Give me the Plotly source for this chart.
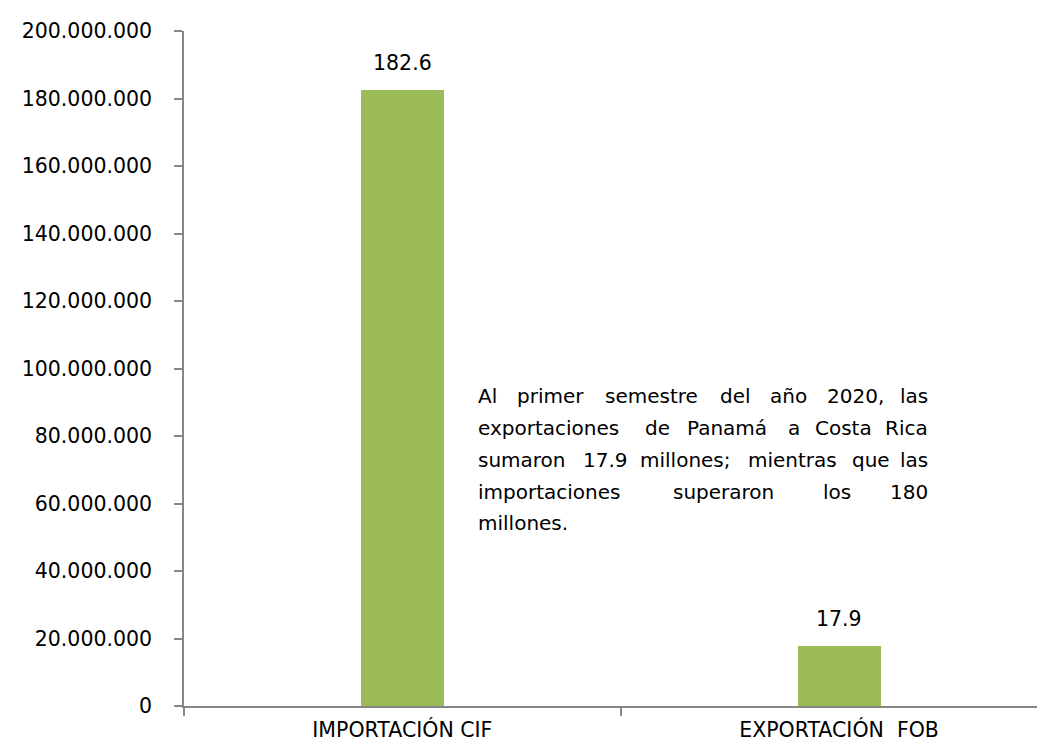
import plotly.graph_objects as go

# ---------------- data ----------------
categorias = ["IMPORTACIÓN CIF", "EXPORTACIÓN\u00a0 FOB"]
valores = [182_600_000, 17_900_000]
etiquetas = ["182.6", "17.9"]

y_ticks = [0, 20_000_000, 40_000_000, 60_000_000, 80_000_000, 100_000_000,
           120_000_000, 140_000_000, 160_000_000, 180_000_000, 200_000_000]

nota = [
    ["Al", "primer", "semestre", "del", "año", "2020,", "las"],
    ["exportaciones", "de", "Panamá", "a", "Costa", "Rica"],
    ["sumaron", "17.9", "millones;", "mientras", "que", "las"],
    ["importaciones", "superaron", "los", "180"],
    ["millones."],
]

# ---------------- layout helpers ----------------
W, H = 1045, 745
L, R, T, B = 176, 0, 23, 47
font_fam = "DejaVu Sans"
gris = "#868686"
verde = "#9BBB59"


def px_x(px):
    return (px - L) / (W - L - R)


def px_y(py):
    return (H - B - py) / (H - T - B)


fig = go.Figure(go.Bar(
    x=categorias, y=valores, width=0.19,
    marker=dict(color=verde, line=dict(width=0)),
    hoverinfo="skip",
))

# bar value labels
for c, v, t in zip(categorias, valores, etiquetas):
    fig.add_annotation(x=c, y=v, text=t, showarrow=False, yshift=27,
                       font=dict(size=20.5, color="black", family=font_fam))

# justified note: word starts, last word right-aligned
starts = [
    [468, 507, 595, 710, 760, 817],
    [468, 635, 677, 778, 805],
    [468, 573, 630, 738, 842],
    [468, 663, 813],
    [468],
]
line_y = [388, 420, 452, 484, 515]
right_edge = 922
for words, xs, ly in zip(nota, starts, line_y):
    for i, w in enumerate(words):
        if i < len(xs):
            fig.add_annotation(x=px_x(xs[i]), y=px_y(ly), xref="paper", yref="paper",
                               text=w, showarrow=False, xanchor="left", yanchor="middle",
                               font=dict(size=20, color="black", family=font_fam))
        else:
            fig.add_annotation(x=px_x(right_edge), y=px_y(ly), xref="paper", yref="paper",
                               text=w, showarrow=False, xanchor="right", yanchor="middle",
                               font=dict(size=20, color="black", family=font_fam))

fig.update_layout(
    width=W, height=H,
    margin=dict(l=L, r=R, t=T, b=B, autoexpand=False),
    paper_bgcolor="white", plot_bgcolor="white",
    separators=",.",
    font=dict(family=font_fam, size=20.5, color="black"),
    showlegend=False,
    bargap=0,
    xaxis=dict(
        type="category", range=[-0.5, 1.49],
        showline=True, linecolor=gris, linewidth=1.5,
        ticks="outside", tickson="boundaries", ticklen=8, tickcolor=gris, tickwidth=1.5,
        ticklabelstandoff=5, showgrid=False, zeroline=False, automargin=False,
        tickfont=dict(size=20.5, color="black"),
    ),
    yaxis=dict(
        range=[0, 200_000_000], tickvals=y_ticks, tickformat=",d",
        showline=True, linecolor=gris, linewidth=1.5,
        ticks="outside", ticklen=8, tickcolor=gris, tickwidth=1.5,
        ticklabelstandoff=18, showgrid=False, zeroline=False, automargin=False,
        tickfont=dict(size=20.5, color="black"),
    ),
)

fig.write_html("out.html")
